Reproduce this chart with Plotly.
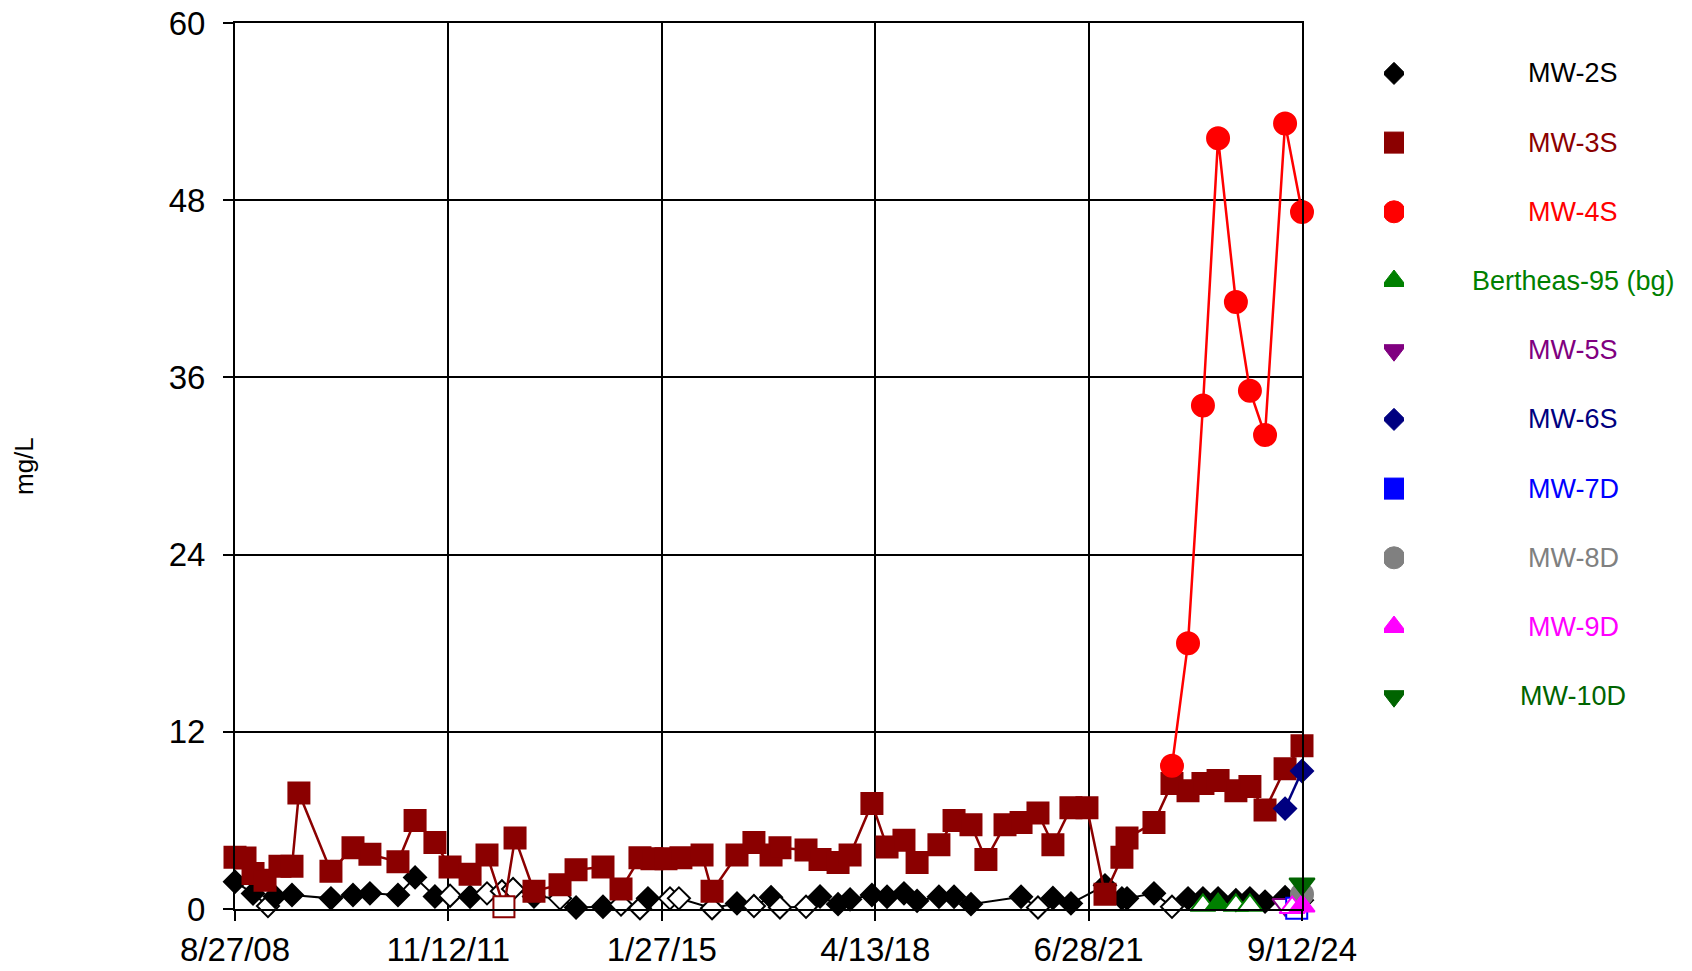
import plotly.graph_objects as go

# ---------------- data ----------------
tick_dates = ["2008-08-27", "2011-11-12", "2015-01-27", "2018-04-13", "2021-06-28", "2024-09-12"]
tick_text = ["8/27/08", "11/12/11", "1/27/15", "4/13/18", "6/28/21", "9/12/24"]
y_ticks = [0, 12, 24, 36, 48, 60]

mw2s_dates = ["2008-08-27", "2008-12-04", "2009-02-24", "2009-04-03", "2009-07-06", "2010-02-05",
              "2010-06-06", "2010-09-07", "2011-02-08", "2011-05-13", "2011-08-30", "2011-11-21",
              "2012-03-10", "2012-06-11", "2012-09-01", "2012-11-01", "2013-02-24", "2013-07-17",
              "2013-10-13", "2014-03-10", "2014-06-17", "2014-09-29", "2014-11-12", "2015-03-13",
              "2015-05-01", "2015-10-30", "2016-03-15", "2016-06-16", "2016-09-18", "2016-11-06",
              "2017-03-29", "2017-06-14", "2017-09-21", "2017-11-26", "2018-03-26", "2018-06-17",
              "2018-09-18", "2018-11-29", "2019-03-29", "2019-06-20", "2019-09-21", "2020-06-22",
              "2020-09-23", "2020-12-14", "2021-03-23", "2021-09-26", "2021-12-28", "2022-01-25",
              "2022-06-22", "2022-09-29", "2022-12-26", "2023-03-18", "2023-06-09", "2023-09-15",
              "2023-12-01", "2024-02-22", "2024-06-11", "2024-09-12"]
mw2s_vals = [1.85, 1.05, 0.2, 0.85, 0.95, 0.72,
             0.95, 1.06, 0.95, 2.14, 0.85, 0.9,
             0.83, 1.06, 1.2, 1.35, 0.85, 0.72,
             0.1, 0.15, 0.3, 0.05, 0.72, 0.72,
             0.72, 0.05, 0.38, 0.2, 0.8, 0.1,
             0.15, 0.85, 0.33, 0.65, 0.95, 0.83,
             1.06, 0.55, 0.83, 0.83, 0.33, 0.83,
             0.1, 0.75, 0.38, 1.6, 0.72, 0.72,
             1.06, 0.15, 0.72, 0.72, 0.72, 0.6,
             0.72, 0.5, 0.8, 0.6]
mw2s_nd = [0, 0, 1, 0, 0, 0,
           0, 0, 0, 0, 0, 1,
           0, 1, 1, 1, 0, 1,
           0, 0, 1, 1, 0, 1,
           1, 1, 0, 1, 0, 1,
           1, 0, 0, 0, 0, 0,
           0, 0, 0, 0, 0, 0,
           1, 0, 0, 0, 0, 0,
           0, 1, 0, 0, 0, 0,
           0, 0, 0, 0]

mw3s_dates = ["2008-08-27", "2008-10-21", "2008-12-04", "2009-02-08", "2009-05-01", "2009-07-06",
              "2009-08-13", "2010-02-05", "2010-06-06", "2010-09-07", "2011-02-08", "2011-05-13",
              "2011-08-30", "2011-11-21", "2012-03-10", "2012-06-11", "2012-09-12", "2012-11-12",
              "2013-02-24", "2013-07-17", "2013-10-13", "2014-03-10", "2014-06-17", "2014-09-29",
              "2014-12-04", "2015-02-19", "2015-05-12", "2015-09-05", "2015-10-30", "2016-03-15",
              "2016-06-16", "2016-09-18", "2016-11-06", "2017-03-29", "2017-06-14", "2017-09-21",
              "2017-11-26", "2018-03-26", "2018-06-17", "2018-09-18", "2018-11-29", "2019-03-29",
              "2019-06-20", "2019-09-21", "2019-12-12", "2020-03-26", "2020-06-22", "2020-09-23",
              "2020-12-14", "2021-03-23", "2021-06-19", "2021-09-26", "2021-12-28", "2022-01-25",
              "2022-06-22", "2022-09-29", "2022-12-26", "2023-03-18", "2023-06-09", "2023-09-15",
              "2023-12-01", "2024-02-22", "2024-06-11", "2024-09-12"]
mw3s_vals = [3.5, 3.45, 2.4, 1.95, 2.9, 2.9,
             7.85, 2.55, 4.15, 3.7, 3.2, 6.0,
             4.5, 2.85, 2.35, 3.65, 0.15, 4.8,
             1.2, 1.65, 2.65, 2.85, 1.35, 3.47,
             3.4, 3.4, 3.47, 3.65, 1.2, 3.65,
             4.5, 3.65, 4.15, 4.0, 3.35, 3.15,
             3.65, 7.15, 4.2, 4.65, 3.15, 4.35,
             6.0, 5.7, 3.35, 5.7, 5.85, 6.5,
             4.35, 6.85, 6.85, 1.0, 3.5, 4.8,
             5.85, 8.5, 8.0, 8.5, 8.7, 8.0,
             8.3, 6.7, 9.5, 11.05]
mw3s_nd = [0] * 16 + [1] + [0] * 47

mw4s_dates = ["2022-09-29", "2022-12-26", "2023-03-18", "2023-06-09", "2023-09-15",
              "2023-12-01", "2024-02-22", "2024-06-11", "2024-09-12"]
mw4s_vals = [9.7, 18.0, 34.1, 52.2, 41.1, 35.1, 32.1, 53.2, 47.2]

bert_dates = ["2023-03-18", "2023-06-09", "2023-09-15", "2023-12-01"]
bert_vals = [0.25, 0.3, 0.25, 0.25]
bert_nd = [1, 0, 1, 1]

mw5s_dates = ["2024-06-11"]
mw5s_vals = [0.3]
mw5s_nd = [1]

mw6s_dates = ["2024-06-11", "2024-09-12"]
mw6s_vals = [6.8, 9.35]

mw7d_dates = ["2024-08-14"]
mw7d_vals = [0.05]
mw7d_nd = [1]

mw8d_dates = ["2024-09-12"]
mw8d_vals = [1.0]

mw9d_dates = ["2024-07-20", "2024-09-12"]
mw9d_vals = [0.1, 0.2]
mw9d_nd = [1, 0]

mw10d_dates = ["2024-09-12"]
mw10d_vals = [1.7]

series_names = ["MW-2S", "MW-3S", "MW-4S", "Bertheas-95 (bg)", "MW-5S",
                "MW-6S", "MW-7D", "MW-8D", "MW-9D", "MW-10D"]
series_colors = ["#000000", "#8B0000", "#FF0000", "#008000", "#800080",
                 "#000080", "#0000FF", "#808080", "#FF00FF", "#006400"]
series_symbols = ["diamond", "square", "circle", "triangle-up", "triangle-down",
                  "diamond", "square", "circle", "triangle-up", "triangle-down"]
symbol_sizes = {"diamond": 17, "square": 21, "circle": 22, "triangle-up": 22, "triangle-down": 22}

# ---------------- layout geometry ----------------
W, H = 1692, 971
PL, PR, PT, PB = 235, 1302, 23, 909      # plot area in pixels
FONT = "Liberation Sans, Arial, sans-serif"

fig = go.Figure()

series_data = [
    (mw2s_dates, mw2s_vals, mw2s_nd, 2.0),
    (mw3s_dates, mw3s_vals, mw3s_nd, 2.5),
    (mw4s_dates, mw4s_vals, None, 2.5),
    (bert_dates, bert_vals, bert_nd, 2.0),
    (mw5s_dates, mw5s_vals, mw5s_nd, 2.0),
    (mw6s_dates, mw6s_vals, None, 2.5),
    (mw7d_dates, mw7d_vals, mw7d_nd, 2.0),
    (mw8d_dates, mw8d_vals, None, 2.0),
    (mw9d_dates, mw9d_vals, mw9d_nd, 2.0),
    (mw10d_dates, mw10d_vals, None, 2.0),
]

for i, (d, v, nd, lw) in enumerate(series_data):
    c = series_colors[i]
    sym = series_symbols[i]
    flags = nd if nd is not None else [0] * len(v)
    fills = ["white" if f else c for f in flags]
    fig.add_trace(go.Scatter(
        x=d, y=v, mode="lines+markers", name=series_names[i], showlegend=False,
        line=dict(color=c, width=lw),
        marker=dict(symbol=sym, size=symbol_sizes[sym], color=fills, opacity=1,
                    line=dict(color=c, width=2)),
        cliponaxis=False,
        xaxis="x", yaxis="y",
    ))

# custom legend: markers on an auxiliary axis, centred text as annotations
legend_rows = list(range(len(series_names)))
fig.add_trace(go.Scatter(
    x=[0] * len(series_names), y=legend_rows, mode="markers", showlegend=False,
    marker=dict(symbol=series_symbols, size=[symbol_sizes[s] for s in series_symbols],
                color=series_colors, opacity=1, line=dict(color=series_colors, width=1)),
    xaxis="x2", yaxis="y2", hoverinfo="skip",
))

row0, row_step = 73.4, 69.2
y2_lo = (PB - row0) / row_step
y2_hi = (PT - row0) / row_step

annotations = []
for i, name in enumerate(series_names):
    annotations.append(dict(
        x=1573 / W, y=i, xref="paper", yref="y2", text=name, showarrow=False,
        xanchor="center", yanchor="middle",
        font=dict(family=FONT, size=27, color=series_colors[i]),
    ))
annotations.append(dict(
    x=24 / W, y=0.5, xref="paper", yref="paper", text="mg/L", showarrow=False,
    textangle=-90, xanchor="center", yanchor="middle",
    font=dict(family=FONT, size=26, color="black"),
))

fig.update_layout(
    width=W, height=H,
    margin=dict(l=0, r=0, t=PT, b=H - PB, pad=0),
    paper_bgcolor="white", plot_bgcolor="white",
    font=dict(family=FONT, color="black"),
    showlegend=False,
    xaxis=dict(
        type="date", domain=[PL / W, PR / W],
        range=[tick_dates[0], tick_dates[-1]],
        tickmode="array", tickvals=tick_dates, ticktext=tick_text,
        showgrid=True, gridcolor="black", gridwidth=2,
        showline=True, linecolor="black", linewidth=2, mirror=True,
        ticks="outside", ticklen=10, tickwidth=2, tickcolor="black",
        tickfont=dict(family=FONT, size=33, color="black"),
        zeroline=False, automargin=False, anchor="y",
    ),
    yaxis=dict(
        range=[0, 60], tickmode="array", tickvals=y_ticks,
        showgrid=True, gridcolor="black", gridwidth=2,
        showline=True, linecolor="black", linewidth=2, mirror=True,
        ticks="outside", ticklen=10, tickwidth=2, tickcolor="black",
        tickfont=dict(family=FONT, size=33, color="black"),
        ticklabelstandoff=11,
        zeroline=False, automargin=False, anchor="x",
    ),
    xaxis2=dict(domain=[1384 / W, 1404 / W], range=[-1, 1], visible=False,
                anchor="y2", fixedrange=True),
    yaxis2=dict(domain=[0, 1], range=[y2_lo, y2_hi], visible=False,
                anchor="x2", fixedrange=True),
    annotations=annotations,
)

fig.write_html("out.html")
